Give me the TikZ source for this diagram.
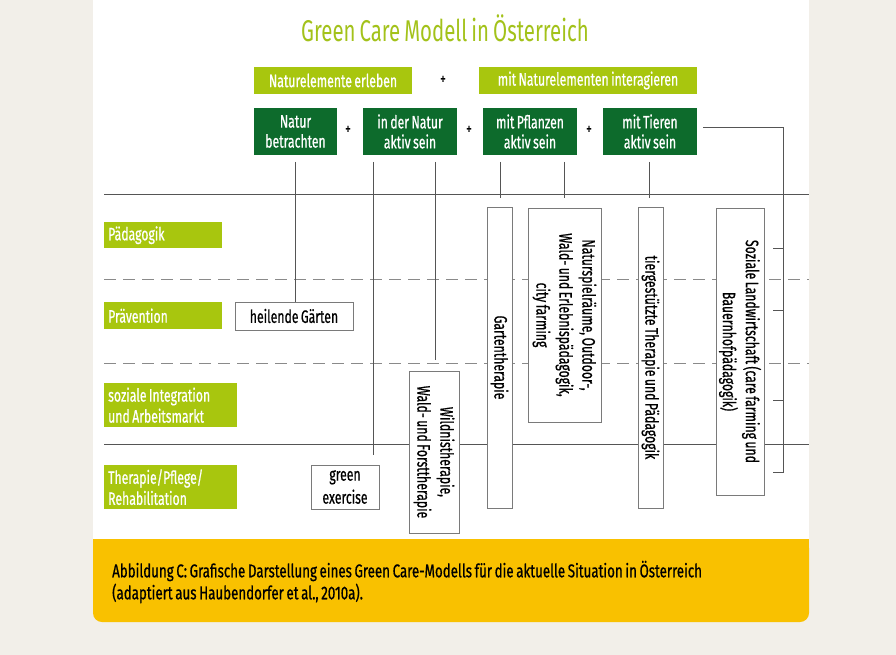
\documentclass[tikz,border=0pt]{standalone}
\usepackage{fontspec}
\setmainfont{Fira Sans}[FakeStretch=0.68,WordSpace=0.75]
\newfontfamily\medf{Fira Sans}[FakeStretch=0.68,WordSpace=0.75,FakeBold=0.7]
\newfontfamily\capf{Fira Sans}[FakeStretch=0.72,WordSpace=0.75,FakeBold=0.7]
\definecolor{bgbeige}{HTML}{F2EFE9}
\definecolor{titlegreen}{HTML}{A3C21A}
\definecolor{lgreen}{HTML}{A8C60E}
\definecolor{dgreen}{HTML}{0D6B2C}
\definecolor{capyellow}{HTML}{F9C100}
\definecolor{linegray}{HTML}{555555}
\definecolor{dashgray}{HTML}{8A8A8A}
\definecolor{boxgray}{HTML}{7A7A7A}
\begin{document}
\begin{tikzpicture}[x=1pt,y=-1pt,
  every node/.append style={execute at begin node={\spaceskip=0pt\xspaceskip=0pt}},
  lgbox/.style={fill=lgreen,text=white,inner sep=0pt,align=center,font=\medf\fontsize{18}{20}\selectfont},
  dgbox/.style={fill=dgreen,text=white,inner sep=0pt,align=center,font=\medf\fontsize{18}{20}\selectfont},
  lbl/.style={fill=lgreen,text=white,inner xsep=4pt,inner ysep=0pt,align=left,anchor=north west,font=\medf\fontsize{18}{21}\selectfont},
  wbox/.style={draw=boxgray,fill=white,line width=0.8pt,text=black,inner sep=0pt,align=center,font=\medf\fontsize{18}{23}\selectfont},
  plus/.style={text=black,inner sep=0pt,font=\medf\fontsize{16}{16}\selectfont},
  hsolid/.style={draw=linegray,line width=0.8pt},
  hdash/.style={draw=dashgray,line width=0.8pt,dash pattern=on 12pt off 7pt},
  vline/.style={draw=linegray,line width=0.8pt}]
\useasboundingbox (0,0) rectangle (896,655);
% background
\fill[bgbeige] (0,0) rectangle (896,655);
\fill[white] (93,0) rectangle (809,540);
\fill[capyellow,rounded corners=9pt] (93,539) -- (93,622) -- (809,622) -- (809,539) -- cycle;
\fill[capyellow] (93,539) rectangle (809,560);
% title
\node[text=titlegreen,inner sep=0pt,font=\fontsize{30}{31}\selectfont] (title) at (445,28) {Green Care Modell in Österreich};
% top boxes
\node[lgbox,minimum width=158,minimum height=27] (le1) at (333,80.5) {Naturelemente erleben};
\node[plus] (pl0) at (443,80) {+};
\node[lgbox,minimum width=218,minimum height=27] (le2) at (588,80.5) {mit Naturelementen interagieren};
\node[dgbox,minimum width=83,minimum height=47] (d1) at (295.5,131.5) {Natur\\betrachten};
\node[dgbox,minimum width=94,minimum height=47] (d2) at (410,131.5) {in der Natur\\aktiv sein};
\node[dgbox,minimum width=94,minimum height=47] (d3) at (530,131.5) {mit Pflanzen\\aktiv sein};
\node[dgbox,minimum width=94,minimum height=47] (d4) at (650,131.5) {mit Tieren\\aktiv sein};
\node[plus] (pl1) at (348,130) {+};
\node[plus] (pl2) at (469,130) {+};
\node[plus] (pl3) at (589,130) {+};
% horizontal grid lines
\coordinate (hL1) at (104,194); \coordinate (hR1) at (809,194);
\coordinate (hL2) at (104,279); \coordinate (hR2) at (809,279);
\coordinate (hL3) at (104,363); \coordinate (hR3) at (809,363);
\coordinate (hL4) at (104,444); \coordinate (hR4) at (809,444);
\draw[hsolid] (hL1) -- (hR1);
\draw[hdash] (hL2) -- (hR2);
\draw[hdash] (hL3) -- (hR3);
\draw[hsolid] (hL4) -- (hR4);
% left labels
\node[lbl,text width=110pt,minimum height=26] (pad) at (104,222) {Pädagogik};
\node[lbl,text width=110pt,minimum height=27] (prae) at (104,302) {Prävention};
\node[lbl,text width=125pt,minimum height=44] (soz) at (104,383) {soziale Integration\\und Arbeitsmarkt};
\node[lbl,text width=125pt,minimum height=44] (ther) at (104,465) {Therapie/Pflege/\\Rehabilitation};
% vertical connectors
\coordinate (v1) at (295,162);
\coordinate (v2) at (373,162); \coordinate (v2e) at (373,455);
\coordinate (v3) at (435,162); \coordinate (v3e) at (435,360);
\coordinate (v4) at (500,162); \coordinate (v4e) at (500,198);
\coordinate (v5) at (564,162); \coordinate (v5e) at (564,198);
\coordinate (v6) at (649,162); \coordinate (v6e) at (649,198);
\draw[vline] (v2) -- (v2e);
\draw[vline] (v3) -- (v3e);
\draw[vline] (v4) -- (v4e);
\draw[vline] (v5) -- (v5e);
\draw[vline] (v6) -- (v6e);
% right bracket
\coordinate (b0) at (703,127); \coordinate (b1) at (783,127);
\coordinate (b2) at (783,472); \coordinate (b3) at (773,472);
\draw[vline] (b0) -- (b1) -- (b2) -- (b3);
\foreach \yy/\nm in {248/t1,310/t2,400/t3}{
  \coordinate (\nm a) at (773,\yy); \coordinate (\nm b) at (783,\yy);
  \draw[vline] (\nm a) -- (\nm b);
}
% white boxes
\node[wbox,minimum width=118,minimum height=28] (hg) at (294,316) {heilende Gärten};
\draw[vline] (v1) -- (v1 |- hg.north);
\node[wbox,minimum width=68,minimum height=44] (ge) at (345,487) {green\\exercise};
\node[wbox,rotate=-90,minimum width=162,minimum height=50] (wt) at (434,452) {Wildnistherapie,\\Wald- und Forsttherapie};
\node[wbox,rotate=-90,minimum width=301,minimum height=25] (gt) at (499.5,357.5) {Gartentherapie};
\node[wbox,rotate=-90,minimum width=214,minimum height=73] (ns) at (564.5,315) {Naturspielräume, Outdoor-,\\Wald- und Erlebnispädagogik,\\city farming};
\node[wbox,rotate=-90,minimum width=301,minimum height=25] (tg) at (650.5,357.5) {tiergestützte Therapie und Pädagogik};
\node[wbox,rotate=-90,minimum width=287,minimum height=48] (sl) at (740,351.5) {Soziale Landwirtschaft (care farming und\\Bauernhofpädagogik)};
% caption
\node[anchor=west,align=left,inner sep=0pt,text=black,font=\capf\fontsize{18.5}{22}\selectfont] (cap) at (112,582) {Abbildung C: Grafische Darstellung eines Green Care-Modells für die aktuelle Situation in Österreich\\(adaptiert aus Haubendorfer et al., 2010a).};
\end{tikzpicture}
\end{document}
